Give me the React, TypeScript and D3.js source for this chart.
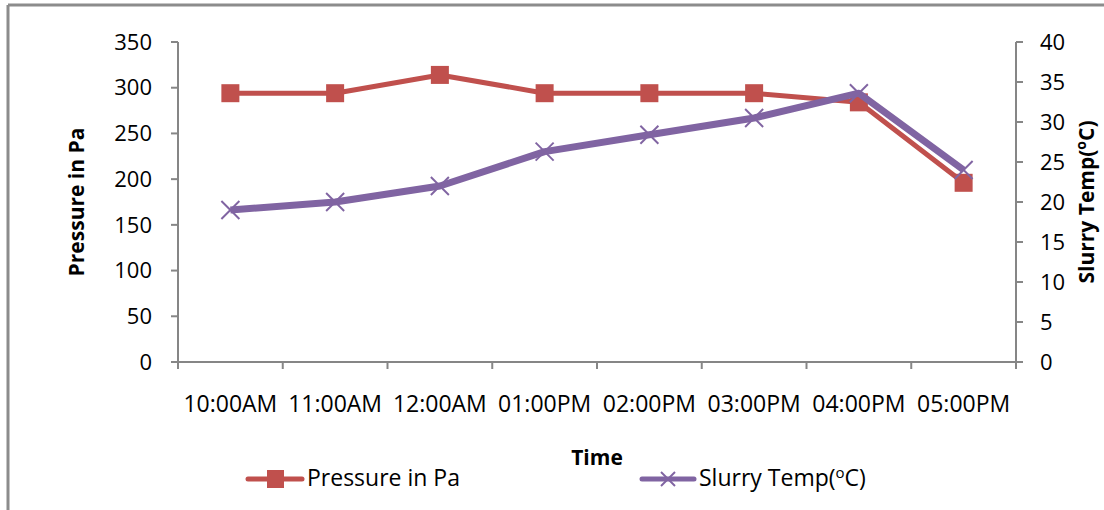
import React from "react";
import * as d3 from "d3";

const categories = ["10:00AM", "11:00AM", "12:00AM", "01:00PM", "02:00PM", "03:00PM", "04:00PM", "05:00PM"];
const pressure = [294, 294, 314, 294, 294, 294, 284, 196];
const slurryTemp = [19, 20, 22, 26.3, 28.4, 30.5, 33.6, 24];
const leftTicks = [0, 50, 100, 150, 200, 250, 300, 350];
const rightTicks = [0, 5, 10, 15, 20, 25, 30, 35, 40];

const W = 1104;
const H = 510;
const m = { left: 178, right: 1016, top: 42, bottom: 362 };
const RED = "#C0504D";
const PURPLE = "#8064A2";
const AXIS = "#868686";
const FONT = "'Open Sans', 'Liberation Sans', sans-serif";

export default function App() {
  const x = d3.scaleBand<string>().domain(categories).range([m.left, m.right]);
  const yL = d3.scaleLinear().domain([0, 350]).range([m.bottom, m.top]);
  const yR = d3.scaleLinear().domain([0, 40]).range([m.bottom, m.top]);
  const cx = (c: string) => (x(c) as number) + x.bandwidth() / 2;

  const lineP = d3.line<number>().x((_, i) => cx(categories[i])).y((d) => yL(d));
  const lineT = d3.line<number>().x((_, i) => cx(categories[i])).y((d) => yR(d));

  const bounds = categories.map((c) => x(c) as number).concat([m.right]);

  const cross = (px: number, py: number, key: string | number, s = 9) => (
    <g key={key} stroke={PURPLE} strokeWidth={2}>
      <line x1={px - s} y1={py - s} x2={px + s} y2={py + s} />
      <line x1={px - s} y1={py + s} x2={px + s} y2={py - s} />
    </g>
  );

  return (
    <svg width={W} height={H} style={{ position: "absolute", left: 0, top: 0 }} fontFamily={FONT}>
      <rect x={0} y={0} width={W} height={H} fill="#fff" />
      {/* outer border */}
      <line x1={8} y1={5} x2={W} y2={5} stroke="#8c8c8c" strokeWidth={3} />
      <line x1={8} y1={5} x2={8} y2={H} stroke="#8c8c8c" strokeWidth={3} />

      {/* left axis */}
      <line x1={m.left} y1={m.top} x2={m.left} y2={m.bottom} stroke={AXIS} strokeWidth={2} />
      {leftTicks.map((t) => (
        <g key={"l" + t}>
          <line x1={m.left - 7} x2={m.left} y1={yL(t)} y2={yL(t)} stroke={AXIS} strokeWidth={2} />
          <text x={152} y={yL(t)} dy="0.35em" textAnchor="end" fontSize={22} fill="#000">{t}</text>
        </g>
      ))}
      {/* right axis */}
      <line x1={m.right} y1={m.top} x2={m.right} y2={m.bottom + 7} stroke={AXIS} strokeWidth={2} />
      {rightTicks.map((t) => (
        <g key={"r" + t}>
          <line x1={m.right} x2={m.right + 7} y1={yR(t)} y2={yR(t)} stroke={AXIS} strokeWidth={2} />
          <text x={1040} y={yR(t)} dy="0.35em" textAnchor="start" fontSize={22} fill="#000">{t}</text>
        </g>
      ))}
      {/* bottom axis */}
      <line x1={m.left} y1={m.bottom} x2={m.right} y2={m.bottom} stroke={AXIS} strokeWidth={2} />
      {bounds.map((b, i) => (
        <line key={"b" + i} x1={b} x2={b} y1={m.bottom} y2={m.bottom + 7} stroke={AXIS} strokeWidth={2} />
      ))}
      {categories.map((c) => (
        <text key={c} x={cx(c)} y={412} textAnchor="middle" fontSize={23} fill="#000">{c}</text>
      ))}

      {/* axis titles */}
      <text transform={`translate(84, ${(m.top + m.bottom) / 2}) rotate(-90)`} textAnchor="middle" fontSize={21} fontWeight="bold" fill="#000">
        Pressure in Pa
      </text>
      <text transform={`translate(1094, ${(m.top + m.bottom) / 2}) rotate(-90)`} textAnchor="middle" fontSize={21} fontWeight="bold" fill="#000">
        Slurry Temp(<tspan fontSize={14} dy={-8}>o</tspan><tspan dy={8}>C)</tspan>
      </text>
      <text x={597} y={465} textAnchor="middle" fontSize={21} fontWeight="bold" fill="#000">Time</text>

      {/* series */}
      <path d={lineP(pressure) || ""} fill="none" stroke={RED} strokeWidth={5} strokeLinejoin="round" />
      {pressure.map((v, i) => (
        <rect key={"p" + i} x={cx(categories[i]) - 9} y={yL(v) - 9} width={18} height={18} fill={RED} />
      ))}
      <path d={lineT(slurryTemp) || ""} fill="none" stroke={PURPLE} strokeWidth={7} strokeLinejoin="round" />
      {slurryTemp.map((v, i) => cross(cx(categories[i]), yR(v), "t" + i))}

      {/* legend */}
      <line x1={248} x2={302} y1={479} y2={479} stroke={RED} strokeWidth={5} strokeLinecap="round" />
      <rect x={267} y={470} width={17} height={18} fill={RED} />
      <text x={307} y={486} fontSize={23} fill="#000">Pressure in Pa</text>

      <line x1={642} x2={694} y1={479} y2={479} stroke={PURPLE} strokeWidth={5} strokeLinecap="round" />
      {cross(668, 479, "lg", 7)}
      <text x={699} y={486} fontSize={23} fill="#000">
        Slurry Temp(<tspan fontSize={15} dy={-8}>o</tspan><tspan dy={8}>C)</tspan>
      </text>
    </svg>
  );
}
